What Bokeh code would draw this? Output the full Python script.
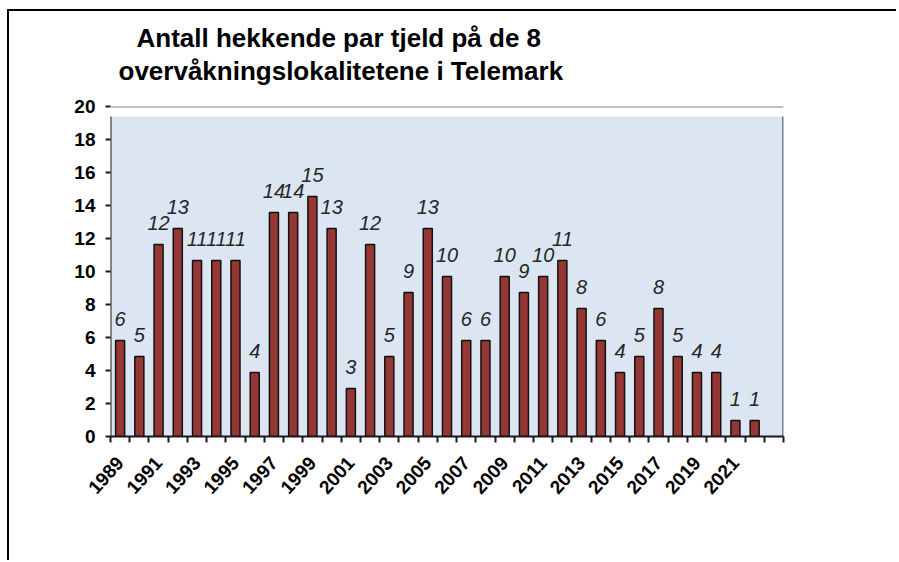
import math
from bokeh.plotting import figure
from bokeh.models import (Range1d, LinearAxis, FixedTicker, Span, BoxAnnotation,
                          Title, ColumnDataSource)
from bokeh.embed import file_html
from bokeh.resources import INLINE
from bokeh.core.properties import value

# ---- data ----
years = list(range(1989, 2023))
pairs = [6, 5, 12, 13, 11, 11, 11, 4, 14, 14, 15, 13, 3, 12, 5, 9, 13, 10,
         6, 6, 10, 9, 10, 11, 8, 6, 4, 5, 8, 5, 4, 4, 1, 1]
label_years = list(range(1989, 2022, 2))
y_ticks = list(range(0, 21, 2))
title_1 = "Antall hekkende  par tjeld på de 8"
title_2 = "overvåkningslokalitetene  i Telemark"

FONT = "Liberation Sans"
x_start, x_end = 1988.5, 2023.5          # one empty slot after 2022
tick_top = 20
frame_h = 330
bar_top = tick_top * frame_h / 320        # bars use the (shorter) plot-area scale

src = ColumnDataSource(dict(year=years, pairs=pairs, label=[str(v) for v in pairs]))

p = figure(width=889, height=551, title=None,
           x_range=Range1d(x_start, x_end), y_range=Range1d(0, bar_top),
           x_axis_type=None, y_axis_type=None,
           output_backend="svg", toolbar_location=None,
           min_border_left=101, min_border_right=115,
           min_border_top=95, min_border_bottom=126)
p.outline_line_color = None
p.background_fill_color = "white"
p.border_fill_color = "white"
p.extra_y_ranges = {"ticks": Range1d(0, tick_top)}
p.styles = {"border-top": "2px solid black", "border-left": "2px solid black",
            "margin-top": "9px", "margin-left": "7px"}

# plot-area background
p.add_layout(BoxAnnotation(left=x_start, right=x_end, bottom=0, top=tick_top,
                           fill_color="#dce6f2", fill_alpha=1, line_color=None,
                           level="underlay"))
# y axis line and right border of plot area
p.segment(x0=[x_start], y0=[0], x1=[x_start], y1=[tick_top],
          line_color="#1a1a1a", line_width=2)
p.segment(x0=[x_end], y0=[0], x1=[x_end], y1=[tick_top],
          line_color="#808080", line_width=3)

# top gridline at 20 (axis scale)
p.add_layout(Span(location=tick_top, dimension="width", y_range_name="ticks",
                  line_color="#808080", line_width=2))

# bars
p.vbar(x="year", top="pairs", width=0.47, source=src,
       fill_color="#953735", line_color="#111111", line_width=1.5)

# data labels
p.text(x="year", y="pairs", text="label", source=src,
       text_align="center", text_baseline="bottom", y_offset=-15,
       text_font=value(FONT), text_font_style="italic",
       text_font_size="20px", text_color="#262626")

# y axis
yax = LinearAxis(y_range_name="ticks", ticker=FixedTicker(ticks=y_ticks),
                 axis_line_color=None,
                 major_tick_in=0, major_tick_out=5,
                 major_tick_line_color="#1a1a1a", major_tick_line_width=2,
                 minor_tick_out=0, minor_tick_in=0,
                 major_label_standoff=10,
                 major_label_text_font=FONT, major_label_text_font_style="bold",
                 major_label_text_font_size="19px", major_label_text_color="black")
p.add_layout(yax, "left")

# x axis
xax = LinearAxis(ticker=FixedTicker(ticks=label_years,
                                    minor_ticks=[x_start + i for i in range(36)]),
                 axis_line_color="#1a1a1a", axis_line_width=2,
                 major_tick_in=0, major_tick_out=0,
                 minor_tick_in=0, minor_tick_out=6,
                 minor_tick_line_color="#1a1a1a", minor_tick_line_width=2,
                 major_label_orientation=math.radians(48),
                 major_label_standoff=17,
                 major_label_text_font=FONT, major_label_text_font_style="bold",
                 major_label_text_font_size="19px", major_label_text_color="black")
p.add_layout(xax, "below")

# titles
t2 = Title(text=title_2, align="left", offset=8, standoff=41,
           text_font=FONT, text_font_style="bold", text_font_size="26px",
           text_color="black")
t1 = Title(text=title_1, align="left", offset=26, standoff=-38,
           text_font=FONT, text_font_style="bold", text_font_size="26px",
           text_color="black")
p.add_layout(t2, "above")
p.add_layout(t1, "above")

open("out.html", "w").write(file_html(p, INLINE))
